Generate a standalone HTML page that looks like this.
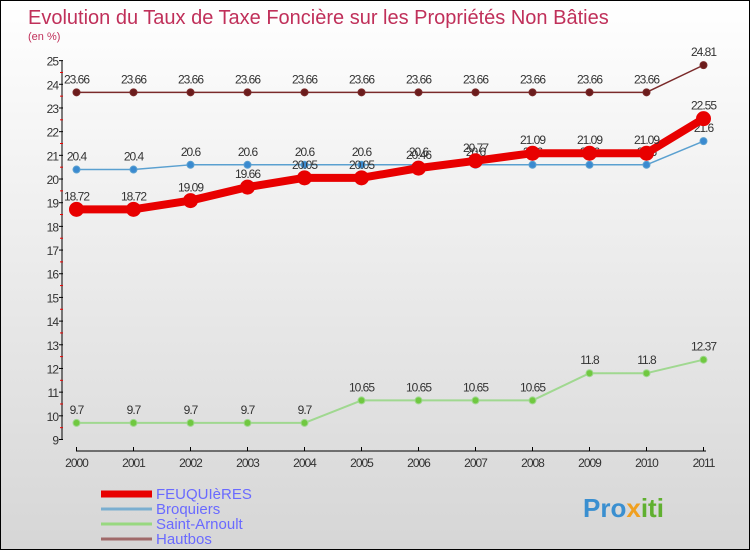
<!DOCTYPE html>
<html><head><meta charset="utf-8"><style>
body{margin:0}
#c{width:750px;height:550px;position:relative;background:linear-gradient(#fff,#d6d6d6);box-sizing:border-box;border:1px solid #000;font-family:"Liberation Sans",sans-serif;overflow:hidden}
</style></head><body>
<div id="c">
<svg id="s" width="750" height="550" style="position:absolute;left:0;top:0">
<text x="27" y="23" font-size="20" fill="#c0305a">Evolution du Taux de Taxe Foncière sur les Propriétés Non Bâties</text>
<text x="27" y="39" font-size="11" fill="#c0305a">(en %)</text>
<g id="axes"></g><g id="series"></g>
<g id="legend"></g>
<text x="582" y="516" font-size="26" font-weight="bold" fill="#3a8fd0">Pro<tspan fill="#f0a020">x</tspan><tspan fill="#60b030">iti</tspan></text>
</svg>
</div>
<script>
const years=["2000","2001","2002","2003","2004","2005","2006","2007","2008","2009","2010","2011"];
const yTicks=[9,10,11,12,13,14,15,16,17,18,19,20,21,22,23,24,25];
const feuq=[18.72,18.72,19.09,19.66,20.05,20.05,20.46,20.77,21.09,21.09,21.09,22.55];
const broq=[20.4,20.4,20.6,20.6,20.6,20.6,20.6,20.6,20.6,20.6,20.6,21.6];
const saint=[9.7,9.7,9.7,9.7,9.7,10.65,10.65,10.65,10.65,11.8,11.8,12.37];
const haut=[23.66,23.66,23.66,23.66,23.66,23.66,23.66,23.66,23.66,23.66,23.66,24.81];
const names=["FEUQUIèRES","Broquiers","Saint-Arnoult","Hautbos"];
const NS="http://www.w3.org/2000/svg";
function X(i){return 75.5+i*57;}
function Y(v){return 438.5-(v-9)*23.68;}
function mk(t,a,p){const e=document.createElementNS(NS,t);for(const k in a)e.setAttribute(k,a[k]);p.appendChild(e);return e;}
const ax=document.getElementById('axes');
let l=mk('line',{x1:61,y1:Y(25),x2:61,y2:Y(9),stroke:'#000','stroke-width':1},ax);


l=mk('line',{x1:75,y1:450,x2:705,y2:450,stroke:'#000','stroke-width':1},ax);


yTicks.forEach(v=>{
 mk('line',{x1:58,y1:Y(v),x2:62,y2:Y(v),stroke:'#000'},ax);
 if(v<25)mk('line',{x1:59,y1:Y(v+0.5),x2:62,y2:Y(v+0.5),stroke:'#e00'},ax);
 const t=mk('text',{x:57,y:Y(v)+5,'font-size':12,'text-anchor':'end',fill:'#333','letter-spacing':'-1'},ax);
 t.textContent=v;
 
 
});
years.forEach((y,i)=>{
 mk('line',{x1:X(i),y1:446,x2:X(i),y2:450,stroke:'#000'},ax);
 const t=mk('text',{x:X(i),y:466,'font-size':12,'text-anchor':'middle',fill:'#333','letter-spacing':'-1'},ax);
 t.textContent=y;
 
 
});
const sg=document.getElementById('series');
function draw(data,color,lw,r,dot,nm){
 const g=mk('g',{},sg);
 
 
 mk('polyline',{points:data.map((v,i)=>X(i)+','+Y(v)).join(' '),fill:'none',stroke:color,'stroke-width':lw,'stroke-linejoin':'round'},g);
 data.forEach((v,i)=>{
  const c=mk('circle',{cx:X(i),cy:Y(v),r:r,fill:dot,stroke:color,'stroke-width':1},g);
  
  
  const t=mk('text',{x:X(i),y:Y(v)-9,'font-size':12,'text-anchor':'middle',fill:'#333','letter-spacing':'-1'},g);
  t.textContent=String(v);
  
  
 });
}
draw(haut,'#7a2a2a',1.5,3.5,'#6b1c1c','series-hautbos');
draw(broq,'#5aa0d0',1.5,3.5,'#3a8ad0','series-broquiers');
draw(saint,'#a0d890',2,3.5,'#70c840','series-saint-arnoult');
draw(feuq,'#e80000',8,7,'#e80000','series-feuquieres');
const lg=document.getElementById('legend');
const lc=['#e80000','#7aaed0','#98d880','#a06a6a'],lw=[7,3,3,3];
names.forEach((n,i)=>{
 const y=492+i*15;
 const r=mk('line',{x1:100,y1:y+1,x2:151,y2:y+1,stroke:lc[i],'stroke-width':lw[i]},lg);
 
 
 const t=mk('text',{x:155,y:y+6,'font-size':15,fill:'#6a6aff'},lg);
 t.textContent=n;
 
 
});
</script>
</body></html>
